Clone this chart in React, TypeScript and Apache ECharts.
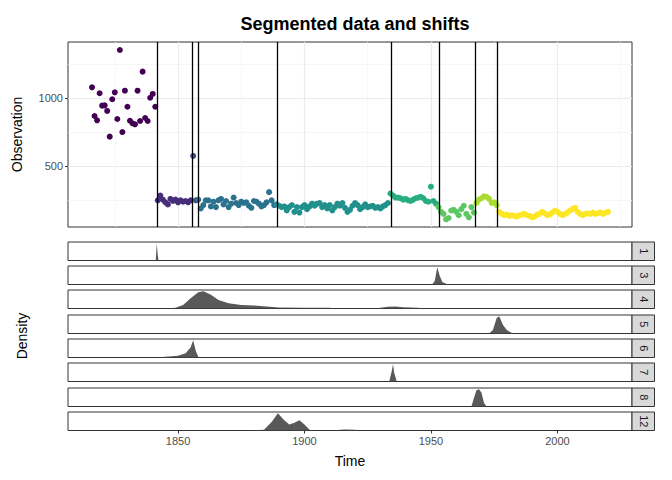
import { useEffect, useRef } from 'react'
import * as echarts from 'echarts'

// observations, one per year, grouped by segment
const segStarts = [1816, 1842, 1856, 1858, 1889, 1934, 1953, 1968, 1977]
const segValues = [
  [1081, 870, 838, 1037, 946, 948, 907, 718, 993, 1044, 848, 1355, 752, 1056, 938, 835, 816, 809, 1056, 833, 1196, 855, 833, 1004, 1032, 938],
  [250, 285, 255, 235, 220, 260, 245, 255, 235, 250, 240, 245, 235, 250],
  [576, 250],
  [255, 190, 215, 250, 250, 205, 240, 200, 250, 260, 220, 245, 200, 225, 270, 230, 215, 240, 230, 235, 210, 195, 245, 240, 225, 205, 215, 235, 310, 250, 215],
  [220, 210, 200, 205, 175, 200, 215, 165, 200, 160, 200, 215, 185, 205, 225, 210, 225, 230, 200, 215, 190, 215, 175, 200, 225, 210, 230, 195, 165, 180, 210, 230, 215, 185, 200, 220, 200, 205, 210, 195, 200, 190, 205, 215, 230],
  [300, 285, 270, 270, 265, 255, 260, 250, 245, 255, 265, 270, 275, 265, 245, 240, 350, 245, 225],
  [200, 165, 150, 110, 120, 175, 180, 165, 140, 185, 210, 150, 125, 200, 160],
  [230, 255, 265, 280, 275, 260, 230, 235, 215],
  [165, 150, 140, 145, 135, 140, 135, 130, 140, 145, 150, 140, 135, 125, 130, 145, 150, 165, 155, 140, 145, 160, 175, 165, 150, 140, 150, 160, 175, 185, 195, 165, 150, 140, 150, 155, 150, 160, 150, 155, 160, 150, 160, 165],
]
const segColors = ['#440154', '#472D7B', '#3B528B', '#2C728E', '#21908C', '#27AD81', '#5DC863', '#AADC32', '#FDE725']
const changepoints = [1841.7, 1855.8, 1858.1, 1889.2, 1934.5, 1953.2, 1967.5, 1976.1]

const xMajor = [1850, 1900, 1950, 2000]
const xMinor = [1825, 1875, 1925, 1975, 2025]
const yMajor = [500, 1000]
const yMinor = [250, 750, 1250]

// posterior densities of changepoint locations, per number of changepoints
const densLabels = ['1', '3', '4', '5', '6', '7', '8', '12']
const densData: number[][][] = [
  [[1841.2, 0], [1841.6, 1], [1842, 0.3], [1842.3, 0]],
  [[1950.5, 0], [1951.5, 0.2], [1952.5, 1], [1953.5, 0.5], [1954.5, 0.15], [1956, 0.05], [1957, 0], [1974.5, 0], [1975, 0.03], [1975.5, 0]],
  [[1846, 0], [1849, 0.05], [1852, 0.2], [1855, 0.6], [1858, 0.95], [1860, 1], [1863, 0.8], [1866, 0.5], [1870, 0.3], [1875, 0.2], [1880, 0.18], [1885, 0.12], [1890, 0.06], [1900, 0.05], [1910, 0.05], [1911, 0], [1928, 0], [1930, 0.05], [1933, 0.1], [1936, 0.12], [1939, 0.08], [1945, 0.04], [1948, 0]],
  [[1973, 0], [1974.5, 0.2], [1976, 0.9], [1977, 1], [1978.5, 0.5], [1980, 0.2], [1982, 0.03], [1983, 0]],
  [[1842, 0], [1845, 0.04], [1850, 0.1], [1853, 0.25], [1855, 0.6], [1856, 1], [1857, 0.4], [1858, 0.05], [1858.5, 0]],
  [[1933.5, 0], [1934.5, 0.6], [1935, 1], [1935.5, 0.5], [1936.5, 0]],
  [[1966, 0], [1967, 0.5], [1968, 0.95], [1969, 1], [1970, 0.8], [1971, 0.2], [1972, 0]],
  [[1878, 0], [1880, 0.02], [1884, 0.05], [1887, 0.5], [1889.5, 1], [1892, 0.6], [1894, 0.35], [1896, 0.45], [1898, 0.6], [1900, 0.35], [1902, 0.05], [1904, 0], [1912, 0], [1914, 0.05], [1916, 0.06], [1920, 0.04], [1921, 0]],
]

const X_MIN = 1806.5
const X_MAX = 2029.5
const FONT = 'Liberation Sans, Arial, sans-serif'

export default function App() {
  const chartRef = useRef<HTMLDivElement | null>(null)

  useEffect(() => {
    if (!chartRef.current) {
      return
    }
    document.body.style.margin = '0'
    const chart = echarts.init(chartRef.current, undefined, { renderer: 'svg' })

    const left = 68
    const width = 564
    const densTop = [242, 266, 290, 315, 339, 363, 388, 412]
    const densH = 18.5
    const plain = (v: number) => String(v)

    const grids: any[] = [{ left, top: 42, width, height: 185, show: true, borderColor: '#333', borderWidth: 1, backgroundColor: '#fff' }]
    const xAxes: any[] = [{
      type: 'value', gridIndex: 0, min: X_MIN, max: X_MAX,
      axisLabel: { show: false }, axisTick: { show: false }, axisLine: { show: false }, splitLine: { show: false },
    }]
    const yAxes: any[] = [{
      type: 'value', gridIndex: 0, min: 53.7, max: 1414,
      name: 'Observation', nameLocation: 'middle', nameGap: 44, nameRotate: 90,
      nameTextStyle: { fontFamily: FONT, fontSize: 14, color: '#000' },
      axisLine: { show: false },
      axisTick: { show: true, length: 3, lineStyle: { color: '#333' }, customValues: yMajor },
      axisLabel: { fontFamily: FONT, fontSize: 11, color: '#4d4d4d', margin: 5, customValues: yMajor, formatter: plain },
      splitLine: { show: false },
    }]
    const series: any[] = []

    // grid lines on a carrier series, below the points
    series.push({
      type: 'scatter', xAxisIndex: 0, yAxisIndex: 0, data: [], silent: true, z: 0, zlevel: 0,
      markLine: {
        symbol: 'none', silent: true, label: { show: false }, z: 0,
        data: [
          ...xMinor.map((v) => ({ xAxis: v, lineStyle: { color: '#f5f5f5', width: 0.8, type: 'solid' } })),
          ...yMinor.map((v) => ({ yAxis: v, lineStyle: { color: '#f5f5f5', width: 0.8, type: 'solid' } })),
          ...xMajor.map((v) => ({ xAxis: v, lineStyle: { color: '#ebebeb', width: 1.2, type: 'solid' } })),
          ...yMajor.map((v) => ({ yAxis: v, lineStyle: { color: '#ebebeb', width: 1.2, type: 'solid' } })),
        ],
      },
    })

    segValues.forEach((vals, s) => {
      series.push({
        type: 'scatter', xAxisIndex: 0, yAxisIndex: 0, symbolSize: 6,
        itemStyle: { color: segColors[s], opacity: 1 },
        data: vals.map((v, i) => [segStarts[s] + i, v]),
        z: 5,
      })
    })

    series.push({
      type: 'scatter', xAxisIndex: 0, yAxisIndex: 0, data: [], silent: true, z: 6,
      markLine: {
        symbol: 'none', silent: true, label: { show: false }, z: 6,
        lineStyle: { color: '#000', width: 1.3, type: 'solid' },
        data: changepoints.map((v) => ({ xAxis: v })),
      },
    })

    const graphics: any[] = []
    densLabels.forEach((lab, i) => {
      const g = i + 1
      const last = i === densLabels.length - 1
      grids.push({ left, top: densTop[i], width, height: densH, show: true, borderColor: '#333', borderWidth: 1, backgroundColor: '#fff' })
      xAxes.push({
        type: 'value', gridIndex: g, min: X_MIN, max: X_MAX,
        axisLine: { show: false }, splitLine: { show: false },
        axisTick: { show: last, length: 3, lineStyle: { color: '#333' }, customValues: xMajor },
        axisLabel: { show: last, fontFamily: FONT, fontSize: 11, color: '#4d4d4d', margin: 5, customValues: xMajor, formatter: plain },
        ...(last ? { name: 'Time', nameLocation: 'middle', nameGap: 23, nameTextStyle: { fontFamily: FONT, fontSize: 14, color: '#000' } } : {}),
      })
      yAxes.push({
        type: 'value', gridIndex: g, min: 0, max: 1.08,
        axisLine: { show: false }, axisTick: { show: false }, axisLabel: { show: false }, splitLine: { show: false },
      })
      series.push({
        type: 'line', xAxisIndex: g, yAxisIndex: g, data: densData[i],
        symbol: 'none', lineStyle: { width: 0 }, areaStyle: { color: '#595959', opacity: 1 },
      })
      graphics.push({
        type: 'rect', shape: { x: left + width, y: densTop[i], width: 22.5, height: densH },
        style: { fill: '#d9d9d9', stroke: '#333', lineWidth: 1 },
      })
      graphics.push({
        type: 'text', x: left + width + 11.5, y: densTop[i] + densH / 2, rotation: -Math.PI / 2,
        style: { text: lab, fontFamily: FONT, fontSize: 11, fill: '#1a1a1a', align: 'center', verticalAlign: 'middle' },
      })
    })

    graphics.push({
      type: 'text', x: 22, y: 336, rotation: Math.PI / 2,
      style: { text: 'Density', fontFamily: FONT, fontSize: 14, fill: '#000', align: 'center', verticalAlign: 'middle' },
    })

    chart.setOption({
      animation: false,
      title: {
        text: 'Segmented data and shifts', left: 350, top: 10, textAlign: 'center',
        textStyle: { fontFamily: FONT, fontSize: 18, fontWeight: 'bold', color: '#000' },
      },
      grid: grids,
      xAxis: xAxes,
      yAxis: yAxes,
      series,
      graphic: graphics,
    })

    return () => {
      chart.dispose()
    }
  }, [])

  return <div ref={chartRef} style={{ width: 672, height: 480 }} />
}
